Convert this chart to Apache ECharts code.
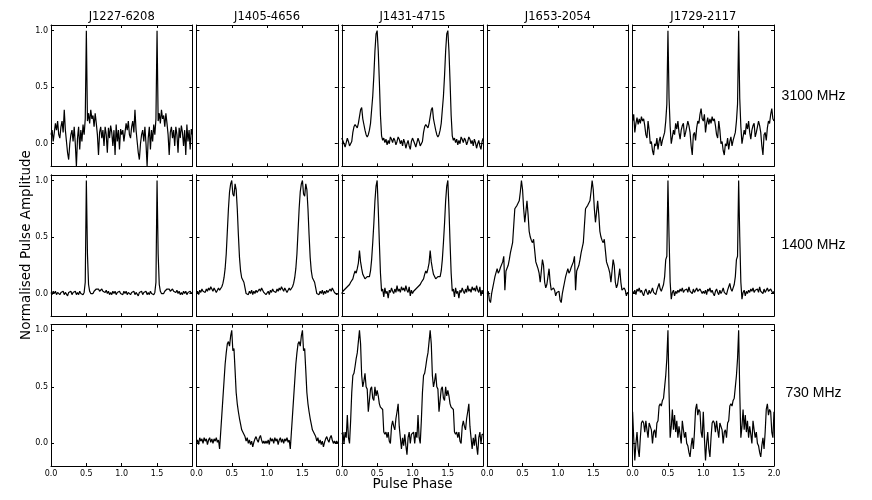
<!DOCTYPE html>
<html>
<head>
<meta charset="utf-8">
<script src="https://cdn.jsdelivr.net/npm/echarts@6/dist/echarts.min.js"></script>
<style>
html,body{margin:0;padding:0;background:#fff;}
#chart{width:872px;height:500px;}
</style>
</head>
<body>
<div id="chart"></div>
<script>
// ---------- data ----------
const pulsars = ['J1227-6208', 'J1405-4656', 'J1431-4715', 'J1653-2054', 'J1729-2117'];
const bands = ['3100 MHz', '1400 MHz', '730 MHz'];
const xTicks = [0, 0.5, 1, 1.5, 2];
const yTicks = [0, 0.5, 1];
const nPeriods = 2;

// one rotation of each profile (phase 0..1)
const J1227_3100 = [0.08,0.12,0.02,0.1,0.18,0.12,0.2,0.08, 0.05,0.15,0.2,0.1,0.3,0.12,0.02,-0.08, -0.14,0.0,0.08,0.12,0.02,0.15,0.0,-0.2, 0.05,0.15,-0.05,0.12,0.02,0.17,0.08,0.22, 1.0,0.2,0.27,0.18,0.3,0.22,0.25,0.15, 0.27,0.18,0.08,-0.1,0.1,0.15,0.05,0.12, -0.02,0.15,0.08,-0.08,0.14,0.05,0.16,0.1, -0.02,0.12,-0.1,0.17,0.02,0.12,-0.05,0.13];
const J1431_3100 = [0.05,0.04,0.0,-0.03,0.01,0.05,0.02,-0.02, -0.03,0.02,0.1,0.15,0.17,0.16,0.14,0.18, 0.24,0.3,0.32,0.22,0.17,0.12,0.08,0.06, 0.08,0.12,0.18,0.3,0.42,0.6,0.82,0.97, 1.0,0.82,0.55,0.25,0.07,0.03,0.05,0.01, 0.04,-0.01,0.03,0.0,0.06,0.04,0.01,0.05, 0.03,-0.01,0.02,0.06,0.04,0.0,0.03,-0.02, 0.04,0.01,-0.04,0.0,0.03,-0.02,-0.05,0.02];
const J1729_3100 = [0.2,0.26,0.1,0.18,0.23,0.17,0.22,0.18, 0.24,0.2,0.22,0.16,0.08,0.05,0.2,0.12, 0.0,0.02,-0.06,-0.1,0.0,-0.02,0.05,-0.05, 0.02,0.06,-0.02,0.03,0.02,0.1,0.2,0.35, 1.0,0.4,0.15,0.0,0.06,0.12,0.08,0.18, 0.13,0.2,0.1,0.04,0.12,0.16,0.18,0.06, 0.1,0.15,0.2,0.16,0.1,-0.02,-0.1,0.08, 0.1,0.03,0.14,0.2,0.18,0.26,0.31,0.22];

const J1227_1400 = [0.01,-0.01,0.02,0.0,0.02,-0.01,0.01,0.02, -0.01,0.01,0.0,0.02,-0.01,0.01,0.02,-0.02, 0.01,0.0,0.02,-0.01,0.01,0.0,0.02,-0.01, 0.01,-0.01,0.02,0.0,0.01,-0.01,0.01,0.1, 1.0,0.35,0.08,0.02,0.0,0.01,0.0,0.02, 0.01,0.04,0.03,0.04,0.02,0.03,0.04,0.02, 0.03,0.01,0.03,0.0,0.02,-0.01,0.01,-0.01, 0.02,0.0,0.02,-0.01,0.01,0.0,0.02,0.0];
const J1405_1400 = [0.0,0.02,-0.01,0.03,0.01,0.04,0.02,0.03, 0.01,0.04,0.02,0.05,0.03,0.06,0.04,0.02, 0.05,0.03,0.01,0.03,0.05,0.03,0.04,0.06, 0.09,0.14,0.22,0.35,0.55,0.75,0.9,0.97, 1.0,0.88,0.86,0.97,0.92,0.75,0.52,0.32, 0.2,0.14,0.12,0.1,0.05,0.0,0.01,-0.01, 0.02,0.0,0.03,-0.01,0.02,0.0,0.03,0.01, 0.02,0.04,0.02,0.05,0.03,0.01,0.02,-0.01];
const J1431_1400 = [0.0,0.02,0.01,0.04,0.03,0.06,0.05,0.08, 0.1,0.09,0.13,0.17,0.2,0.18,0.22,0.27, 0.38,0.28,0.22,0.17,0.15,0.13,0.12,0.15, 0.14,0.15,0.2,0.3,0.45,0.62,0.82,0.95, 1.0,0.75,0.45,0.18,0.02,0.04,-0.03,0.05, 0.0,0.02,-0.04,0.03,0.01,0.05,0.02,0.0, 0.04,0.01,0.07,0.02,0.04,0.01,0.06,0.03, 0.05,0.02,0.07,0.03,0.01,0.06,-0.02,0.03];
const J1653_1400 = [0.0,0.02,-0.06,-0.08,0.0,0.05,0.1,0.15, 0.16,0.22,0.18,0.2,0.23,0.22,0.28,0.33, 0.03,0.2,0.2,0.25,0.3,0.36,0.35,0.45, 0.6,0.75,0.76,0.78,0.8,0.82,0.9,1.0, 0.92,0.75,0.63,0.72,0.82,0.7,0.55,0.5, 0.47,0.45,0.48,0.38,0.28,0.25,0.22,0.18, 0.1,0.2,0.3,0.25,0.1,0.05,0.08,0.15, 0.22,0.1,0.03,0.02,0.05,0.03,-0.02,0.01];
const J1729_1400 = [0.02,0.0,0.03,-0.01,0.04,0.02,0.05,0.01, 0.03,0.0,-0.02,0.02,0.04,0.01,-0.01,0.03, 0.0,0.02,0.05,0.01,0.02,-0.01,0.03,0.06, 0.09,0.04,0.02,0.05,0.08,0.15,0.3,0.33, 1.0,0.5,0.1,-0.05,0.01,0.03,-0.02,0.02, 0.0,0.03,0.01,0.04,0.02,0.05,0.01,0.03, 0.02,0.04,0.01,0.06,0.02,0.03,0.0,0.04, 0.01,0.03,0.05,0.02,0.01,0.04,0.02,0.0];

const J1405_730 = [0.0,0.03,-0.01,0.05,0.02,0.04,0.0,0.05, 0.02,0.04,-0.01,0.03,0.05,0.01,0.04,0.0, 0.04,0.02,0.05,0.01,0.03,-0.05,0.1,0.25, 0.4,0.55,0.7,0.8,0.88,0.9,0.86,0.95, 1.0,0.82,0.84,0.65,0.45,0.35,0.28,0.22, 0.17,0.12,0.13,0.08,0.06,0.02,0.05,0.0, 0.03,-0.01,0.02,-0.03,0.01,0.04,0.06,0.03, 0.01,0.05,0.07,0.03,0.0,0.02,0.0,0.02];
const J1431_730 = [0.08,0.1,0.0,0.1,0.05,0.25,0.05,0.0, 0.2,0.45,0.6,0.62,0.68,0.75,0.8,0.9, 1.0,0.88,0.6,0.5,0.55,0.62,0.5,0.48, 0.28,0.38,0.48,0.5,0.4,0.38,0.5,0.42, 0.47,0.42,0.35,0.32,0.33,0.3,0.1,0.08, 0.1,0.05,0.1,0.02,0.0,0.15,0.2,0.15, 0.12,0.22,0.28,0.35,0.15,0.05,-0.05,0.05, -0.02,0.08,-0.02,-0.1,0.05,0.1,0.0,0.08];
const J1729_730 = [0.28,0.05,-0.15,0.0,0.1,-0.05,-0.12,0.05, 0.18,0.2,0.18,0.1,0.2,0.12,0.05,0.18, 0.15,0.12,0.0,0.1,0.12,0.05,0.18,0.2, 0.33,0.35,0.33,0.38,0.4,0.5,0.6,0.75, 1.0,0.45,0.05,0.15,0.3,0.12,0.25,0.1, 0.2,0.05,0.15,0.08,0.0,0.2,0.12,0.05, 0.1,0.0,-0.02,-0.08,-0.12,-0.02,0.05,-0.05, 0.1,0.3,0.35,0.25,0.3,0.28,0.1,0.05];

const panelData = [
  [J1227_3100, null, J1431_3100, null, J1729_3100],
  [J1227_1400, J1405_1400, J1431_1400, J1653_1400, J1729_1400],
  [null, J1405_730, J1431_730, null, J1729_730]
];

// ---------- layout ----------
const L = 51, R = 774, T = 25, B = 466, GX = 4, GY = 8.5;
const colW = (R - L - 4 * GX) / 5;
const rowH = (B - T - 2 * GY) / 3;
const black = '#000';
const tickFont = 'DejaVu Sans';

const grids = [], xAxes = [], yAxes = [], series = [], graphics = [];
let gi = 0;
for (let r = 0; r < 3; r++) {
  for (let c = 0; c < 5; c++) {
    const left = L + c * (colW + GX);
    const top = T + r * (rowH + GY);
    grids.push({ left: left, top: top, width: colW, height: rowH, containLabel: false });
    const frame = { show: true, onZero: false, lineStyle: { color: black, width: 1 } };
    const xLabelVals = c === 4 ? xTicks : xTicks.slice(0, 4);
    ['bottom', 'top'].forEach(function (pos) {
      xAxes.push({
        type: 'value', gridIndex: gi, min: 0, max: 2, position: pos,
        axisLine: frame,
        axisTick: { show: true, inside: true, length: 3, customValues: xTicks, lineStyle: { color: black, width: 1 } },
        axisLabel: { show: pos === 'bottom' && r === 2, customValues: xLabelVals,
          formatter: function (v) { return Number(v).toFixed(1); },
          fontSize: 8, fontFamily: tickFont, color: black, margin: 4 },
        splitLine: { show: false }
      });
    });
    ['left', 'right'].forEach(function (pos) {
      yAxes.push({
        type: 'value', gridIndex: gi, min: -0.2, max: 1.05, position: pos,
        axisLine: frame,
        axisTick: { show: true, inside: true, length: 3, customValues: yTicks, lineStyle: { color: black, width: 1 } },
        axisLabel: { show: pos === 'left' && c === 0, customValues: yTicks,
          formatter: function (v) { return Number(v).toFixed(1); },
          fontSize: 8, fontFamily: tickFont, color: black, margin: 3 },
        splitLine: { show: false }
      });
    });
    const prof = panelData[r][c];
    if (prof) {
      const n = prof.length;
      const pts = [];
      for (let k = 0; k < n * nPeriods; k++) pts.push([k / n, prof[k % n]]);
      pts.push([nPeriods, prof[0]]);
      series.push({
        type: 'line', xAxisIndex: gi * 2, yAxisIndex: gi * 2, data: pts,
        showSymbol: false, symbol: 'none', smooth: false, clip: true,
        lineStyle: { color: black, width: 1.2 }, silent: true
      });
    }
    gi++;
  }
}

// column titles
for (let c = 0; c < 5; c++) {
  graphics.push({ type: 'text', x: L + c * (colW + GX) + colW / 2, y: 17.5,
    style: { text: pulsars[c], font: '11.5px "DejaVu Sans"', fill: black, align: 'center', verticalAlign: 'middle' } });
}
// band labels
for (let r = 0; r < 3; r++) {
  graphics.push({ type: 'text', x: 813.5, y: T + r * (rowH + GY) + rowH / 2 - (r === 2 ? 2 : 0),
    style: { text: bands[r], font: '14px "Liberation Sans"', fill: black, align: 'center', verticalAlign: 'middle' } });
}
graphics.push({ type: 'text', x: (L + R) / 2, y: 484,
  style: { text: 'Pulse Phase', font: '13.5px "DejaVu Sans"', fill: black, align: 'center', verticalAlign: 'middle' } });
graphics.push({ type: 'text', x: 26, y: 245, rotation: Math.PI / 2,
  style: { text: 'Normalised Pulse Amplitude', font: '13.5px "DejaVu Sans"', fill: black, align: 'center', verticalAlign: 'middle' } });

const chart = echarts.init(document.getElementById('chart'), null, { renderer: 'canvas' });
chart.setOption({
  animation: false,
  backgroundColor: '#fff',
  grid: grids, xAxis: xAxes, yAxis: yAxes, series: series,
  graphic: graphics
});
</script>
</body>
</html>
